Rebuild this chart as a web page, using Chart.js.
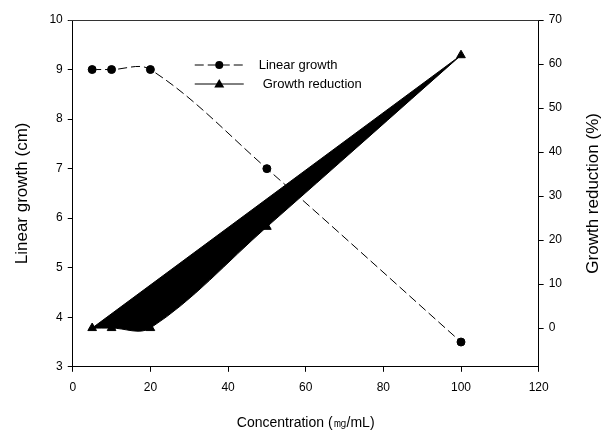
<!DOCTYPE html>
<html lang="en">
<head>
<meta charset="UTF-8">
<title>Linear growth and growth reduction</title>
<script src="https://cdn.jsdelivr.net/npm/chart.js"></script>
<style>
  html, body { margin: 0; padding: 0; background: #fff; }
  .wrap { width: 603px; height: 432px; }
</style>
</head>
<body>
<div class="wrap"><canvas id="chart" width="603" height="432"></canvas></div>
<script>
// data
const concentration = [5, 10, 20, 50, 100];
const linearGrowth = [9, 9, 9, 7, 3.5];
const growthReduction = [0, 0, 0, 23, 62];
const xTicks = [0, 20, 40, 60, 80, 100, 120];
const leftTicks = [3, 4, 5, 6, 7, 8, 9, 10];
const rightTicks = [0, 10, 20, 30, 40, 50, 60, 70];
const seriesNames = ['Linear growth', 'Growth reduction'];
const rightTitle = 'Growth reduction (%)';

Chart.defaults.font.family = "'Liberation Sans', Arial, sans-serif";
Chart.defaults.color = '#000';

const pts = (ys) => concentration.map((x, i) => ({ x: x, y: ys[i] }));
const last = concentration.length - 1;

// top border, right title (reads bottom to top) and legend inside the plot
const framePlugin = {
  id: 'frame',
  afterDraw(chart) {
    const { ctx, chartArea: a } = chart;
    ctx.save();
    ctx.strokeStyle = '#333';
    ctx.lineWidth = 1;
    ctx.beginPath();
    ctx.moveTo(a.left - 4, a.top + 0.5);
    ctx.lineTo(a.right, a.top + 0.5);
    ctx.stroke();

    // right axis title
    ctx.save();
    ctx.translate(a.right + 55, (a.top + a.bottom) / 2);
    ctx.rotate(-Math.PI / 2);
    ctx.font = "17px 'Liberation Sans', Arial, sans-serif";
    ctx.fillStyle = '#000';
    ctx.textAlign = 'center';
    ctx.textBaseline = 'middle';
    ctx.fillText(rightTitle, 0, 0);
    ctx.restore();

    // legend
    const x0 = a.left + 122, x1 = a.left + 171, xm = (x0 + x1) / 2;
    const y0 = a.top + 45, y1 = a.top + 64;
    ctx.strokeStyle = '#000';
    ctx.fillStyle = '#000';
    ctx.setLineDash([9, 4]);
    ctx.beginPath(); ctx.moveTo(x0, y0); ctx.lineTo(x1, y0); ctx.stroke();
    ctx.setLineDash([]);
    ctx.beginPath(); ctx.arc(xm, y0, 4, 0, Math.PI * 2); ctx.fill();
    ctx.beginPath(); ctx.moveTo(x0, y1); ctx.lineTo(x1, y1); ctx.stroke();
    ctx.beginPath();
    ctx.moveTo(xm, y1 - 5); ctx.lineTo(xm + 5, y1 + 3.5); ctx.lineTo(xm - 5, y1 + 3.5);
    ctx.closePath(); ctx.fill();
    ctx.font = "13px 'Liberation Sans', Arial, sans-serif";
    ctx.textBaseline = 'middle';
    ctx.fillText(seriesNames[0], x1 + 15, y0);
    ctx.fillText(seriesNames[1], x1 + 19, y1);
    ctx.restore();
  }
};

const axisGrid = { drawOnChartArea: false, tickLength: 5, color: '#000' };
const axisBorder = { color: '#000', width: 1 };

new Chart(document.getElementById('chart'), {
  type: 'line',
  data: {
    datasets: [
      {
        label: seriesNames[0],
        data: pts(linearGrowth),
        yAxisID: 'y',
        borderColor: '#000',
        borderWidth: 1,
        borderDash: [9, 4],
        pointStyle: 'circle',
        pointRadius: 4,
        pointBackgroundColor: '#000',
        pointBorderColor: '#000',
        tension: 0.35,
        fill: false
      },
      {
        label: seriesNames[1],
        data: pts(growthReduction),
        yAxisID: 'y2',
        borderColor: '#000',
        borderWidth: 1,
        backgroundColor: '#000',
        pointStyle: 'triangle',
        pointRadius: 5,
        pointBackgroundColor: '#000',
        pointBorderColor: '#000',
        tension: 0.35,
        fill: { target: 2 }
      },
      {
        // straight edge from first to last reduction point
        label: 'edge',
        data: [
          { x: concentration[0], y: growthReduction[0] },
          { x: concentration[last], y: growthReduction[last] }
        ],
        yAxisID: 'y2',
        borderColor: '#000',
        borderWidth: 1,
        pointRadius: 0,
        tension: 0,
        fill: false
      }
    ]
  },
  options: {
    responsive: false,
    animation: false,
    layout: { padding: { left: 12, right: 36, top: 20, bottom: 0 } },
    plugins: {
      legend: { display: false },
      tooltip: { enabled: false }
    },
    scales: {
      x: {
        type: 'linear',
        min: 0,
        max: 120,
        afterBuildTicks: (s) => { s.ticks = xTicks.map(v => ({ value: v })); },
        ticks: { font: { size: 12 }, padding: 9, maxRotation: 0 },
        grid: axisGrid,
        border: axisBorder,
        title: { display: true, text: 'Concentration (㎎/mL)', font: { size: 14 }, padding: { top: 11, bottom: 0 } }
      },
      y: {
        position: 'left',
        min: 3,
        max: 10,
        afterBuildTicks: (s) => { s.ticks = leftTicks.map(v => ({ value: v })); },
        ticks: { font: { size: 12 }, padding: 5 },
        grid: axisGrid,
        border: axisBorder,
        title: { display: true, text: 'Linear growth (cm)', font: { size: 17 }, padding: { top: 0, bottom: 12 } }
      },
      y2: {
        position: 'right',
        min: -8.8,
        max: 70,
        afterBuildTicks: (s) => { s.ticks = rightTicks.map(v => ({ value: v })); },
        ticks: { font: { size: 12 }, padding: 5 },
        grid: axisGrid,
        border: axisBorder
      }
    }
  },
  plugins: [framePlugin]
});
</script>
</body>
</html>
